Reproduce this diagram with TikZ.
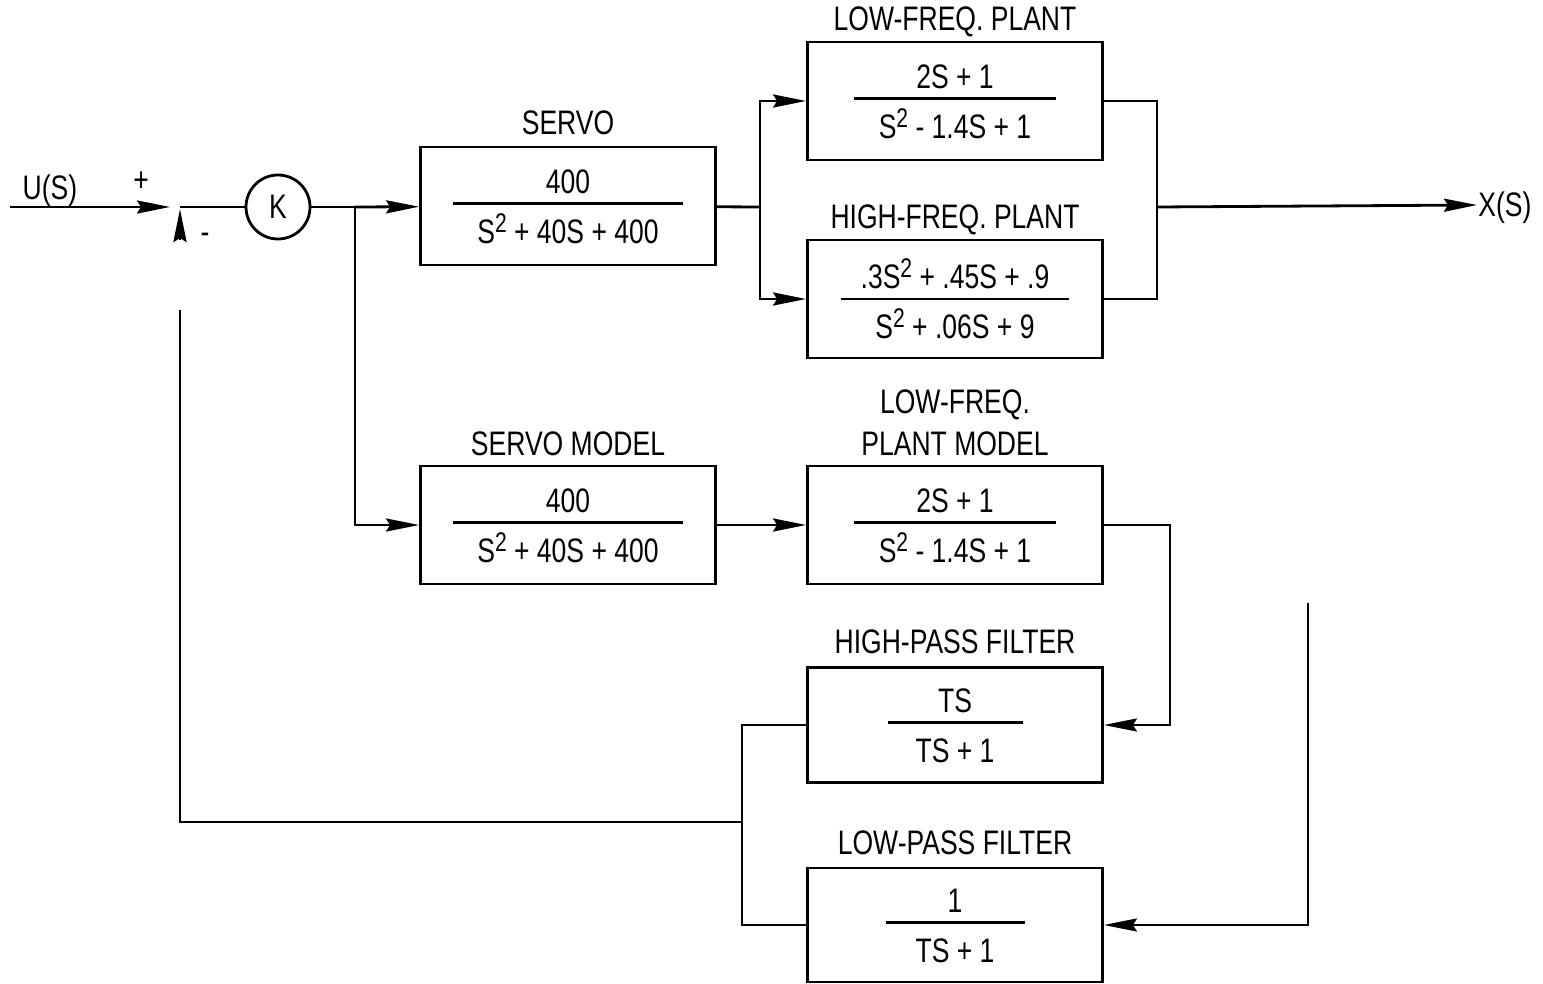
\documentclass[tikz,border=0pt]{standalone}
\usepackage{fontspec}
\setmainfont{Liberation Sans}[FakeStretch=0.78]
\usetikzlibrary{arrows.meta, positioning}
\setlength{\arrayrulewidth}{2.6pt}
% fraction inside a block: bar width, numerator, denominator
\newcommand{\breuk}[3]{{\renewcommand{\arraystretch}{0}%
  \begin{tabular}{@{}c@{}}\makebox[#1]{\rule[-8.75pt]{0pt}{33.75pt}#2}\\\hline
  \makebox[#1]{\rule{0pt}{38.25pt}#3}\end{tabular}}}
\newcommand{\kw}{\raisebox{11pt}{\fontsize{27}{30}\selectfont 2}}

\begin{document}
\begin{tikzpicture}[x=1pt, y=-1pt, line width=2.8pt,
  font=\fontsize{34}{40}\selectfont,
  blok/.style={draw, rectangle, minimum width=295pt, minimum height=118pt,
    inner sep=0pt},
  titel/.style={inner sep=0pt, text height=24pt, text depth=0pt},
  pijl/.style={-{Stealth[length=33pt, width=13pt, inset=4pt]}}
]
  \useasboundingbox (0,0) rectangle (1543,984);

  % blocks
  \node[blok] (servo) at (568,206) {\breuk{230pt}{400}{S\kw{} + 40S + 400}};
  \node[blok] (lfp) at (955,101) {\breuk{202pt}{2S + 1}{S\kw{} - 1.4S + 1}};
  \node[blok] (hfp) at (955,299) {\breuk{228pt}{.3S\kw{} + .45S + .9}{S\kw{} + .06S + 9}};
  \node[blok] (servom) at (568,525) {\breuk{230pt}{400}{S\kw{} + 40S + 400}};
  \node[blok] (plantm) at (955,525) {\breuk{202pt}{2S + 1}{S\kw{} - 1.4S + 1}};
  \node[blok, minimum height=115pt] (hp) at (955,725) {\breuk{135pt}{TS}{TS + 1}};
  \node[blok, minimum height=114pt] (lp) at (955,925) {\breuk{139pt}{1}{TS + 1}};
  \node[draw, circle, minimum size=64pt, inner sep=0pt] (k) at (278,207) {K};

  % titles
  \node[titel, above=10pt of servo] (servo-t) {SERVO};
  \node[titel, above=9pt of lfp] (lfp-t) {LOW-FREQ. PLANT};
  \node[titel, above=9pt of hfp] (hfp-t) {HIGH-FREQ. PLANT};
  \node[titel, above=8pt of servom] (servom-t) {SERVO MODEL};
  \node[titel, above=8pt of plantm] (plantm-t2) {PLANT MODEL};
  \node[titel, above=15pt of plantm-t2] (plantm-t1) {LOW-FREQ.};
  \node[titel, above=11pt of hp] (hp-t) {HIGH-PASS FILTER};
  \node[titel, above=11pt of lp] (lp-t) {LOW-PASS FILTER};

  % signals and signs
  \node[titel] (us) at (50,188) {U(S)};
  \node[titel, anchor=west] (xs) at (1477,205) {X(S)};
  \node[titel] (plus) at (141,180) {+};
  \node[titel] (min) at (205,232) {-};

  \coordinate (in) at (10,207);
  \coordinate (sum) at (180,207);
  \coordinate (tap) at (355,207);
  \coordinate (split) at (760,207);
  \coordinate (join) at (1157,207);
  \coordinate (hpbend) at (1170,620);
  \coordinate (lptop) at (1308,603);
  \coordinate (fbx) at (742,822);
  \coordinate (fbgap) at (180,310);
  \coordinate (fbend) at (180,240);

  % forward path
  \draw[pijl, shorten >=10pt] (in) -- (sum);
  \draw (sum) -- (k);
  \draw (k) -- (tap);
  \draw[pijl] (tap) -- (servo);
  \draw[pijl] (tap) |- (servom.west);
  \draw (servo) -- (split);
  \draw[pijl] (split) |- (lfp.west);
  \draw[pijl] (split) |- (hfp.west);
  \draw (lfp.east) -| (join);
  \draw (hfp.east) -| (join);
  \draw[pijl] (join) -- (xs.west);

  % model and filters
  \draw[pijl] (servom) -- (plantm);
  \draw[pijl] (plantm.east) -| (hpbend) |- (hp.east);
  \draw[pijl] (lptop) |- (lp.east);
  \draw (hp.west) -| (fbx) |- (lp.west);
  \draw (fbx) -| (fbgap);
  \draw[pijl, shorten >=2pt] (fbend) -- (sum);
\end{tikzpicture}
\end{document}
